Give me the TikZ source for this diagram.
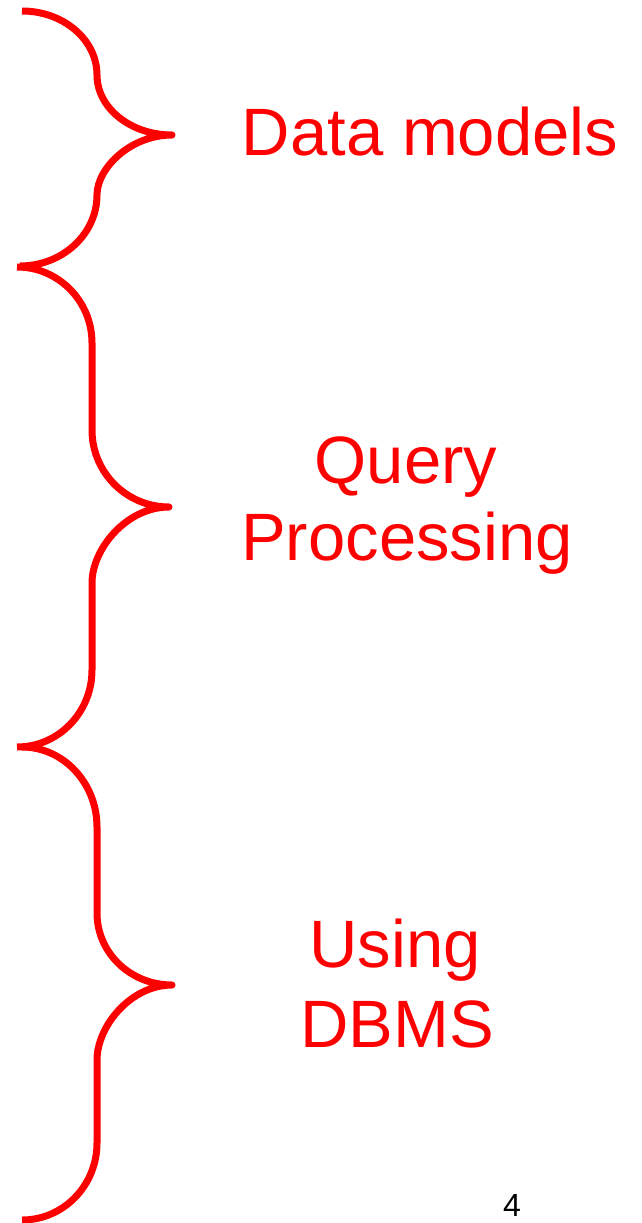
\documentclass[tikz,border=0pt]{standalone}
\usepackage{fontspec}
\setmainfont{Liberation Sans}
\definecolor{bred}{RGB}{255,0,0}
\begin{document}
\begin{tikzpicture}[x=1pt,y=1pt,
  bracepath/.style={draw=bred,line width=7pt,line cap=butt,line join=round},
  lbl/.style={text=bred,font=\fontsize{67}{77}\selectfont,anchor=base,inner sep=0pt},
  pagenum/.style={text=black,font=\fontsize{32}{36}\selectfont,anchor=base,inner sep=0pt}]
\useasboundingbox (0,0) rectangle (641,-1223);
% brace 1
\draw[bracepath] (22,-11) .. controls (63.4,-11) and (97,-39.7) .. (97,-75)
  .. controls (97,-108) and (130.6,-135) .. (172,-135)
  .. controls (130.6,-135) and (97,-168) .. (97,-195)
  .. controls (97,-234) and (62.5,-266) .. (20,-266);
% brace 2
\draw[bracepath] (17,-267) .. controls (58.4,-267) and (92,-301) .. (92,-343)
  -- (92,-430)
  .. controls (92,-472.5) and (126.5,-507) .. (169,-507)
  .. controls (126.5,-507) and (92,-549) .. (92,-583)
  -- (92,-670)
  .. controls (92,-712.5) and (58.4,-747) .. (17,-747);
% brace 3
\draw[bracepath] (22,-747) .. controls (63.4,-747) and (97,-783) .. (97,-827)
  -- (97,-913)
  .. controls (97,-953) and (130.6,-985) .. (172,-985)
  .. controls (130.6,-985) and (97,-1026.4) .. (97,-1060)
  -- (97,-1143)
  .. controls (97,-1185.5) and (63.4,-1220) .. (22,-1220);
% labels
\node[lbl] (dm) at (430,-155) {Data models};
\node[lbl] (q1) at (406,-483) {Query};
\node[lbl] (q2) at (407,-560) {Processing};
\node[lbl] (u1) at (395,-967) {Using};
\node[lbl] (u2) at (397,-1047) {DBMS};
\node[pagenum] (pg) at (512,-1216) {4};
\end{tikzpicture}
\end{document}
